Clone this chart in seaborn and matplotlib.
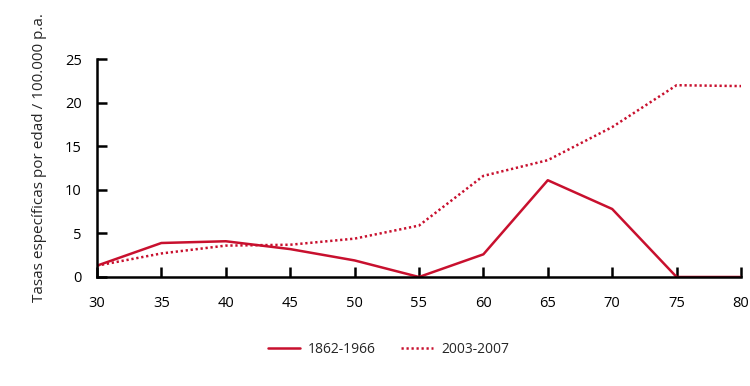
import matplotlib
matplotlib.use("Agg")
import matplotlib.pyplot as plt
import seaborn as sns
import pandas as pd
from matplotlib.lines import Line2D

edad = [30, 35, 40, 45, 50, 55, 60, 65, 70, 75, 80]
serie_1862_1966 = [1.3, 3.9, 4.1, 3.2, 1.9, 0.0, 2.6, 11.1, 7.8, 0.0, 0.0]
serie_2003_2007 = [1.3, 2.7, 3.6, 3.7, 4.4, 5.9, 11.6, 13.4, 17.2, 22.0, 21.9]
etiquetas = ["1862-1966", "2003-2007"]
yticks = [0, 5, 10, 15, 20, 25]
xticks = [30, 35, 40, 45, 50, 55, 60, 65, 70, 75, 80]

df = pd.DataFrame({
    "edad": edad * 2,
    "tasa": serie_1862_1966 + serie_2003_2007,
    "serie": [etiquetas[0]] * len(edad) + [etiquetas[1]] * len(edad),
})

sns.set_theme(style="white")
plt.rcParams["font.family"] = ["Open Sans", "DejaVu Sans"]

color = "#c8102e"
dots = (0.9, 1.1)
fig = plt.figure(figsize=(7.5, 3.86), dpi=100)
ax = fig.add_axes([0.1293, 0.2824, 0.8587, 0.5646])

sns.lineplot(data=df, x="edad", y="tasa", hue="serie", style="serie",
             palette=[color, color], dashes=[(None, None), dots],
             linewidth=1.8, ax=ax, legend=False)

handles = [Line2D([], [], color=color, lw=1.8, ls="-"),
           Line2D([], [], color=color, lw=1.8, ls=(0, dots))]

ax.set_xlim(30, 80)
ax.set_ylim(0, 25)
ax.set_xticks(xticks)
ax.set_yticks(yticks)
ax.set_xlabel("")
ax.set_ylabel("Tasas específicas por edad / 100.000 p.a.", fontsize=11)
ax.yaxis.set_label_coords(-0.078, 0.55)
for s in ["top", "right"]:
    ax.spines[s].set_visible(False)
for s in ["left", "bottom"]:
    ax.spines[s].set_linewidth(1.8)
    ax.spines[s].set_color("black")
ax.tick_params(axis="both", direction="in", length=7, width=1.8, colors="black",
               labelsize=10.5, left=True, bottom=True)
ax.tick_params(axis="x", pad=14)
ax.tick_params(axis="y", pad=11)
for t in ax.get_xticklabels() + ax.get_yticklabels():
    t.set_color("black")

fig.legend(handles, etiquetas, loc="center", bbox_to_anchor=(0.518, 0.095), ncol=2,
           frameon=False, fontsize=10, handlelength=2.3, columnspacing=1.8,
           handletextpad=0.6)

fig.savefig("out.png", dpi=100)
